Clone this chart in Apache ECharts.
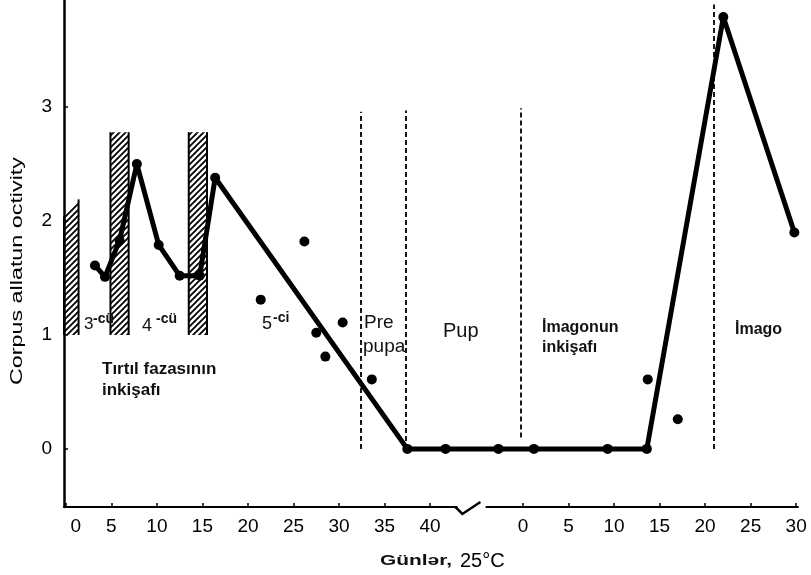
<!DOCTYPE html>
<html><head><meta charset="utf-8">
<script src="https://cdn.jsdelivr.net/npm/echarts@6/dist/echarts.min.js"></script>
<style>html,body{margin:0;padding:0;background:#fff}#c{width:811px;height:575px}</style>
</head><body><div id="c"></div>
<script>
// ---- data ----
const IMAGO_OFFSET = 50.2;            // position of imago day 0 on the broken axis
const BREAK_FROM = 43.0, BREAK_TO = 46.1;
const larvaTicks = [0, 5, 10, 15, 20, 25, 30, 35, 40];
const imagoTicks = [0, 5, 10, 15, 20, 25, 30];
const yTicks = [0, 1, 2, 3];

const lineLarvaDays = [3.2, 4.3, 5.9, 7.8, 10.2, 12.5, 14.7, 16.4, 37.5, 41.7];
const lineLarvaVals = [1.61, 1.51, 1.83, 2.50, 1.79, 1.52, 1.52, 2.38, 0, 0];
const lineImagoDays = [-2.7, 1.2, 9.3, 13.6, 22.0, 29.8];
const lineImagoVals = [0, 0, 0, 0, 3.79, 1.90];

const dotLarvaDays = [21.4, 26.2, 27.5, 28.5, 30.4, 33.6];
const dotLarvaVals = [1.31, 1.82, 1.02, 0.81, 1.11, 0.61];
const dotImagoDays = [13.7, 17.0];
const dotImagoVals = [0.61, 0.26];

// moult bars: [start day, end day, bottom, top at left, top at right]
const moultBars = [
  [-0.2, 1.4, 1, 2.04, 2.19],
  [4.9, 6.9, 1, 2.78, 2.78],
  [13.5, 15.5, 1, 2.78, 2.78]
];
// dashed stage borders: larva days / imago days, [day, yFrom, yTo]
const borderLarva = [[32.4, 0, 2.96], [37.3, 0, 2.97]];
const borderImago = [[-0.2, 0.1, 2.99], [21.0, 0, 3.9]];

// ---- build ----
const lineData = lineLarvaDays.map((d, i) => [d, lineLarvaVals[i]])
  .concat(lineImagoDays.map((d, i) => [d + IMAGO_OFFSET, lineImagoVals[i]]));
const dotData = dotLarvaDays.map((d, i) => [d, dotLarvaVals[i]])
  .concat(dotImagoDays.map((d, i) => [d + IMAGO_OFFSET, dotImagoVals[i]]));
const borderData = borderLarva.map(b => [{coord: [b[0], b[1]]}, {coord: [b[0], b[2]]}])
  .concat(borderImago.map(b => [{coord: [b[0] + IMAGO_OFFSET, b[1]]}, {coord: [b[0] + IMAGO_OFFSET, b[2]]}]));
const tickValues = larvaTicks.concat(imagoTicks.map(d => d + IMAGO_OFFSET));

function hatchCanvas() {
  const c = document.createElement('canvas');
  c.width = c.height = 6;
  const g = c.getContext('2d');
  g.strokeStyle = '#000'; g.lineWidth = 1.8;
  g.beginPath();
  g.moveTo(-1, 7); g.lineTo(7, -1);
  g.moveTo(-1, 1); g.lineTo(1, -1);
  g.moveTo(5, 7); g.lineTo(7, 5);
  g.stroke();
  return c;
}
const hatch = hatchCanvas();

const FONT = '"Liberation Sans", Arial, sans-serif';
const chart = echarts.init(document.getElementById('c'), null, {renderer: 'canvas'});

const option = {
  animation: false,
  backgroundColor: '#fff',
  grid: {left: 64, right: 13, top: 0, bottom: 68},
  xAxis: {
    type: 'value', min: -0.2, max: 80.4,
    axisLine: {show: true, onZero: false, lineStyle: {color: '#000', width: 2}},
    axisTick: {show: true, inside: true, length: 4, customValues: tickValues, lineStyle: {color: '#000', width: 1.5}},
    axisLabel: {
      show: true, customValues: tickValues, color: '#000', fontSize: 19, fontFamily: FONT, margin: 10,
      formatter: v => {
        if (v > BREAK_TO) return String(Math.round(v - IMAGO_OFFSET));
        if (v === 0) return '{z|0}';
        return String(v);
      },
      rich: {z: {padding: [0, 0, 0, 20], fontSize: 19, fontFamily: FONT, color: '#000'}}
    },
    splitLine: {show: false}
  },
  yAxis: {
    type: 'value', min: -0.51, max: 3.94,
    axisLine: {show: true, onZero: false, lineStyle: {color: '#000', width: 2.5}},
    axisTick: {show: true, inside: true, length: 4, customValues: yTicks, lineStyle: {color: '#000', width: 1.5}},
    axisLabel: {show: true, customValues: yTicks, color: '#000', fontSize: 19, fontFamily: FONT, margin: 12},
    splitLine: {show: false}
  },
  series: [
    {
      type: 'custom', silent: true, z: 1,
      data: moultBars,
      renderItem: (params, api) => {
        const pBL = api.coord([api.value(0), api.value(2)]);
        const pBR = api.coord([api.value(1), api.value(2)]);
        const pTL = api.coord([api.value(0), api.value(3)]);
        const pTR = api.coord([api.value(1), api.value(4)]);
        return {
          type: 'group',
          children: [
            {type: 'polygon', shape: {points: [pBL, pBR, pTR, pTL]},
             style: {fill: {image: hatch, repeat: 'repeat'}, stroke: null}},
            {type: 'line', shape: {x1: pBL[0], y1: pBL[1], x2: pTL[0], y2: pTL[1]},
             style: {stroke: '#000', lineWidth: 2}},
            {type: 'line', shape: {x1: pBR[0], y1: pBR[1], x2: pTR[0], y2: pTR[1]},
             style: {stroke: '#000', lineWidth: 2}}
          ]
        };
      }
    },
    {
      type: 'line', data: lineData, z: 3,
      lineStyle: {color: '#000', width: 5},
      itemStyle: {color: '#000', opacity: 1},
      symbol: 'circle', symbolSize: 10, showSymbol: true,
      emphasis: {disabled: true}
    },
    {
      type: 'scatter', data: dotData, z: 3,
      symbol: 'circle', symbolSize: 10,
      itemStyle: {color: '#000', opacity: 1},
      emphasis: {disabled: true},
      markLine: {
        silent: true, symbol: ['none', 'none'], label: {show: false},
        lineStyle: {color: '#000', type: [5, 3], width: 1.8, opacity: 1},
        emphasis: {disabled: true},
        data: borderData
      }
    }
  ]
};
chart.setOption(option);

// ---- annotations ----
const txt = (text, left, top, size, weight, extra) => Object.assign({
  type: 'text', left: left, top: top, silent: true, z: 10,
  style: {text: text, fill: '#111', font: (weight || 'normal') + ' ' + size + 'px ' + FONT}
}, extra || {});

const brk0 = chart.convertToPixel({xAxisIndex: 0, yAxisIndex: 0}, [BREAK_FROM, -0.51]);
const brk1 = chart.convertToPixel({xAxisIndex: 0, yAxisIndex: 0}, [BREAK_TO, -0.51]);

// y-axis title, stretched along its length like the reference lettering
const yTitle = 'Corpus allatun octivity';
const mctx = document.createElement('canvas').getContext('2d');
mctx.font = '16px ' + FONT;
const yTitleScale = 228 / mctx.measureText(yTitle).width;
mctx.font = 'bold 14px ' + FONT;
const xTitleScale = 72 / mctx.measureText('Günlər,').width;

chart.setOption({
  graphic: [
    {type: 'rect', silent: true, z: 20,
     shape: {x: brk0[0], y: brk0[1] - 3, width: brk1[0] - brk0[0], height: 6},
     style: {fill: '#fff'}},
    {type: 'polyline', silent: true, z: 21,
     shape: {points: [[brk0[0] - 2, brk0[1]], [brk0[0] + 5, brk0[1] + 7], [brk0[0] + 23, brk0[1] - 5]]},
     style: {stroke: '#000', lineWidth: 2.5, fill: null}},
    {type: 'text', silent: true, z: 10, x: 18, y: 271, rotation: Math.PI / 2, scaleX: yTitleScale,
     style: {text: yTitle, fill: '#000', font: '16px ' + FONT, align: 'center', verticalAlign: 'middle'}},
    {type: 'text', silent: true, z: 10, x: 380, y: 561, scaleX: xTitleScale,
     style: {text: 'Günlər,', fill: '#111', font: 'bold 14px ' + FONT, align: 'left', verticalAlign: 'middle'}},
    {type: 'text', silent: true, z: 10, x: 460, y: 561,
     style: {text: '25°C', fill: '#000', font: '20px ' + FONT, align: 'left', verticalAlign: 'middle'}},

    txt('3', 84, 316, 17, 'normal'),
    txt('-cü', 93, 312, 14, 'bold'),
    txt('4', 142, 317, 18, 'normal'),
    txt('-cü', 156, 312, 14, 'bold'),
    txt('5', 262, 315, 18, 'normal'),
    txt('-ci', 273, 311, 14, 'bold'),
    txt('Pre', 364, 313, 19, 'normal'),
    txt('pupa', 363, 337, 19, 'normal'),
    txt('Pup', 443, 321, 20, 'normal'),
    txt('İmagonun', 542, 320, 16, 'bold'),
    txt('inkişafı', 542, 340, 16, 'bold'),
    txt('İmago', 735, 322, 16, 'bold'),
    txt('Tırtıl fazasının', 102, 361, 17, 'bold'),
    txt('inkişafı', 102, 382, 17, 'bold')
  ]
});
</script>
</body></html>
